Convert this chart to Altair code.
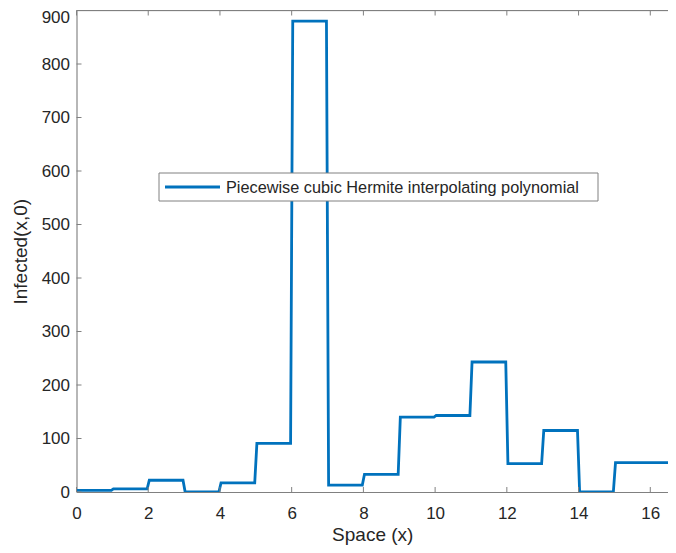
import altair as alt
import pandas as pd

# Step levels of Infected(x,0), one per unit interval of x
seg_start = [0, 1, 2, 3, 4, 5, 6, 7, 8, 9, 10, 11, 12, 13, 14, 15]
seg_end = [1, 2, 3, 4, 5, 6, 7, 8, 9, 10, 11, 12, 13, 14, 15, 16.7]
levels = [3, 6, 22, 0, 17, 91, 880, 13, 33, 140, 143, 243, 53, 115, 0, 55]

x_ticks = [0, 2, 4, 6, 8, 10, 12, 14, 16]
y_ticks = [0, 100, 200, 300, 400, 500, 600, 700, 800, 900]
x_domain = [0, 16.494]
y_domain = [0, 900]
legend_label = ["Piecewise cubic Hermite interpolating polynomial"]

W, H = 591.5, 481.5
BLUE = "#0072BD"
AXC = "#808080"
TXT = "#262626"
FONT = "Liberation Sans"

# knots of the piecewise curve (short transitions at each breakpoint)
eps = 0.03
xs, ys = [], []
for i, (s, e, v) in enumerate(zip(seg_start, seg_end, levels)):
    a = s if i == 0 else s + eps
    b = e if i == len(levels) - 1 else e - eps
    xs += [a, b]
    ys += [v, v]
curve = pd.DataFrame({"x": xs, "y": ys, "order": list(range(len(xs)))})

xsc = alt.Scale(domain=x_domain, nice=False, zero=False)
ysc = alt.Scale(domain=y_domain, nice=False)

line = alt.Chart(curve).mark_line(color=BLUE, strokeWidth=2.8, clip=True).encode(
    x=alt.X("x:Q", scale=xsc, title="Space (x)",
            axis=alt.Axis(values=x_ticks, tickSize=0, grid=False, labelPadding=13,
                          titlePadding=4, domainColor=AXC, labelColor=TXT,
                          titleColor=TXT, labelFontSize=17, titleFontSize=19,
                          labelFont=FONT, titleFont=FONT, titleFontWeight="normal",
                          labelFlush=False)),
    y=alt.Y("y:Q", scale=ysc, title="Infected(x,0)",
            axis=alt.Axis(values=y_ticks, tickSize=0, grid=False, labelPadding=7,
                          titlePadding=11, domainColor=AXC, labelColor=TXT,
                          titleColor=TXT, labelFontSize=17, titleFontSize=19,
                          labelFont=FONT, titleFont=FONT, titleFontWeight="normal",
                          labelFlush=False,
                          labelOffset=alt.condition("datum.value >= 900",
                                                    alt.value(7), alt.value(0)))),
    order="order:Q",
)

xt = pd.DataFrame({"x": x_ticks})
yt = pd.DataFrame({"y": y_ticks})

xticks_bottom = alt.Chart(xt).mark_rule(color=AXC, strokeWidth=1).encode(
    x=alt.X("x:Q", scale=xsc), y=alt.value(H), y2=alt.value(H - 5))
xticks_top = alt.Chart(xt).mark_rule(color=AXC, strokeWidth=1).encode(
    x=alt.X("x:Q", scale=xsc), y=alt.value(0), y2=alt.value(5))
yticks_left = alt.Chart(yt).mark_rule(color=AXC, strokeWidth=1).encode(
    y=alt.Y("y:Q", scale=ysc), x=alt.value(0), x2=alt.value(5))
top_border = alt.Chart(pd.DataFrame({"a": [0]})).mark_rule(color=AXC, strokeWidth=1).encode(
    x=alt.value(0), x2=alt.value(W), y=alt.value(0))

leg = pd.DataFrame({"label": legend_label})
leg_box = alt.Chart(leg).mark_rect(fill="white", stroke=AXC, strokeWidth=1).encode(
    x=alt.value(82.5), x2=alt.value(521.5), y=alt.value(162.5), y2=alt.value(190.5))
leg_line = alt.Chart(leg).mark_rule(color=BLUE, strokeWidth=3).encode(
    x=alt.value(88.5), x2=alt.value(143.5), y=alt.value(176.5))
leg_text = alt.Chart(leg).mark_text(align="left", baseline="middle", fontSize=16.3,
                                     font=FONT, color=TXT).encode(
    x=alt.value(149.5), y=alt.value(177), text="label:N")

chart = alt.layer(
    line, xticks_bottom, xticks_top, yticks_left, top_border, leg_box, leg_line, leg_text
).properties(
    width=W, height=H,
    autosize=alt.AutoSizeParams(type="none"),
    padding={"left": 68.5, "top": 2.5, "right": 0, "bottom": 53},
).configure_view(stroke=None).configure(background="white")

chart.save("out.html", embed_options={"renderer": "svg", "actions": False})
